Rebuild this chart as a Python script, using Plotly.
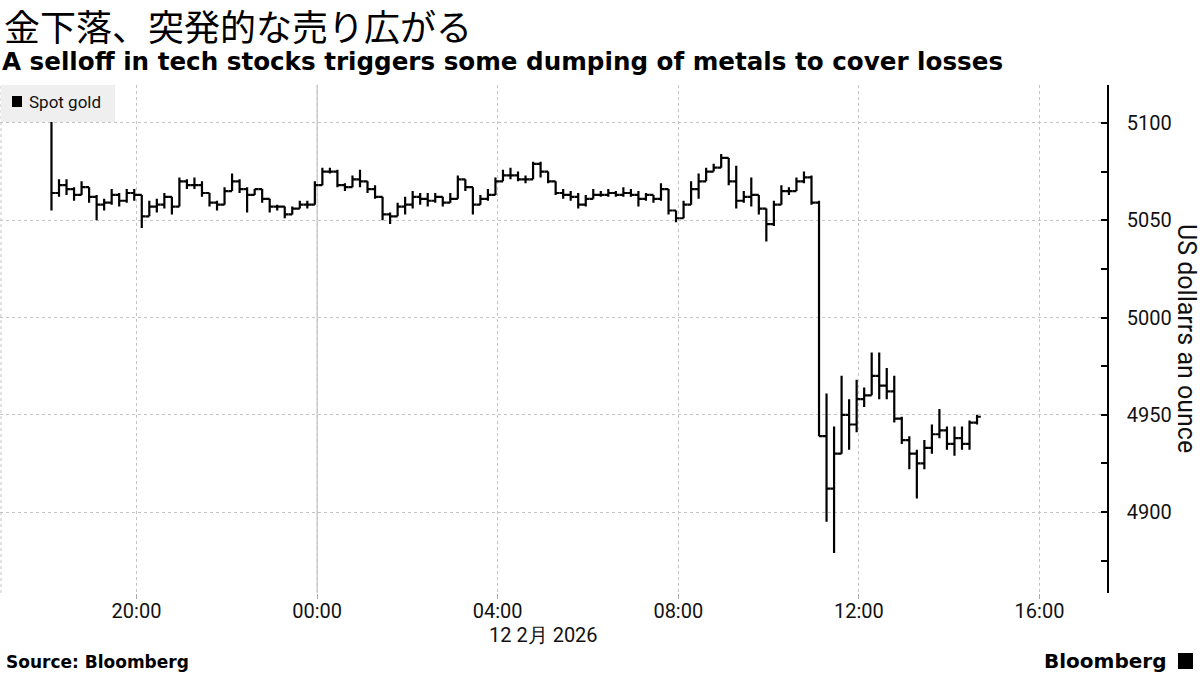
import plotly.graph_objects as go
import pandas as pd

# ---- data (10-minute bars of spot gold) ----
start_time = "2026-02-11 18:07"
bar_minutes = 10
first_open = 5101

close = [5064, 5068, 5066, 5063, 5067, 5062, 5058, 5059, 5063, 5060,
         5064, 5063, 5052, 5057, 5058, 5062, 5057, 5070, 5068, 5068,
         5064, 5059, 5058, 5065, 5070, 5066, 5063, 5066, 5061, 5057,
         5057, 5053, 5056, 5058, 5058, 5068, 5075, 5075, 5068, 5067,
         5071, 5070, 5066, 5062, 5053, 5052, 5057, 5058, 5062, 5061,
         5060, 5062, 5059, 5061, 5071, 5067, 5058, 5061, 5063, 5070,
         5073, 5073, 5071, 5071, 5079, 5075, 5070, 5064, 5063, 5062,
         5058, 5061, 5063, 5063, 5064, 5063, 5064, 5063, 5061, 5063,
         5061, 5066, 5055, 5051, 5058, 5066, 5070, 5075, 5077, 5082,
         5070, 5060, 5062, 5063, 5056, 5048, 5058, 5065, 5065, 5070,
         5072, 5059, 4939, 4912, 4930, 4950, 4945, 4958, 4960, 4970,
         4965, 4962, 4948, 4937, 4930, 4925, 4933, 4940, 4942, 4935,
         4938, 4935, 4946, 4949]

high = [5103, 5071, 5071, 5067, 5070, 5067, 5063, 5061, 5066, 5064,
        5066, 5066, 5063, 5060, 5061, 5064, 5062, 5072, 5071, 5072,
        5070, 5063, 5060, 5067, 5074, 5071, 5067, 5066, 5066, 5061,
        5058, 5057, 5057, 5060, 5060, 5070, 5077, 5077, 5076, 5069,
        5073, 5076, 5070, 5068, 5062, 5054, 5059, 5062, 5065, 5064,
        5064, 5064, 5062, 5064, 5073, 5071, 5067, 5063, 5066, 5072,
        5076, 5077, 5075, 5073, 5080, 5080, 5074, 5070, 5066, 5065,
        5064, 5063, 5066, 5065, 5066, 5065, 5067, 5066, 5065, 5064,
        5063, 5069, 5066, 5055, 5060, 5070, 5074, 5077, 5079, 5084,
        5082, 5078, 5065, 5072, 5063, 5056, 5060, 5068, 5067, 5072,
        5075, 5073, 5060, 4961, 4944, 4970, 4958, 4968, 4964, 4982,
        4982, 4974, 4970, 4949, 4939, 4932, 4937, 4945, 4953, 4944,
        4944, 4944, 4947, 4950]

low = [5055, 5062, 5063, 5060, 5063, 5059, 5050, 5055, 5058, 5057,
       5059, 5060, 5046, 5052, 5054, 5056, 5053, 5057, 5066, 5066,
       5062, 5057, 5055, 5058, 5065, 5064, 5054, 5063, 5059, 5054,
       5055, 5051, 5053, 5056, 5056, 5058, 5068, 5074, 5067, 5065,
       5067, 5067, 5064, 5061, 5050, 5048, 5052, 5053, 5056, 5058,
       5057, 5059, 5057, 5059, 5061, 5065, 5053, 5058, 5060, 5063,
       5070, 5071, 5070, 5069, 5071, 5072, 5069, 5063, 5061, 5060,
       5056, 5057, 5061, 5062, 5062, 5062, 5062, 5062, 5057, 5060,
       5059, 5060, 5053, 5049, 5051, 5058, 5061, 5070, 5075, 5077,
       5068, 5056, 5059, 5057, 5053, 5039, 5047, 5058, 5063, 5065,
       5069, 5058, 4939, 4895, 4879, 4930, 4932, 4941, 4954, 4960,
       4958, 4958, 4946, 4935, 4922, 4907, 4922, 4930, 4938, 4932,
       4929, 4932, 4932, 4945]

x_tick_vals = ["2026-02-11 20:00", "2026-02-12 00:00", "2026-02-12 04:00",
               "2026-02-12 08:00", "2026-02-12 12:00", "2026-02-12 16:00"]
x_tick_text = ["20:00", "00:00", "04:00", "08:00", "12:00", "16:00"]
y_tick_vals = [4900, 4950, 5000, 5050, 5100]
y_tick_text = ["4900", "4950", "5000", "5050", "5100"]

title_text = "金下落、突発的な売り広がる"
subtitle_text = "A selloff in tech stocks triggers some dumping of metals to cover losses"
series_name = "Spot gold"
y_title = "US dollarrs an ounce"
date_label = "12 2月 2026"
source_text = "Source: Bloomberg"
brand_text = "Bloomberg"

# ---- build ----
times = pd.date_range(start_time, periods=len(close), freq=f"{bar_minutes}min")
open_ = [first_open] + close[:-1]
high_p = [max(h, o, c) for h, o, c in zip(high, open_, close)]
low_p = [min(l, o, c) for l, o, c in zip(low, open_, close)]

W, H = 1200, 675
L, R, T, B = 0, 93, 85, 82
PW, PH = W - L - R, H - T - B


def px(x):
    return (x - L) / PW


def py(y):
    return (H - B - y) / PH


fig = go.Figure(go.Ohlc(
    x=times, open=open_, high=high_p, low=low_p, close=close,
    increasing=dict(line=dict(color="black", width=2.2)),
    decreasing=dict(line=dict(color="black", width=2.2)),
    tickwidth=0.5, showlegend=False, hoverinfo="skip", name=series_name,
))

grid_col = "#c4c4c4"
fig.update_layout(
    width=W, height=H,
    margin=dict(l=L, r=R, t=T, b=B),
    paper_bgcolor="white", plot_bgcolor="white",
    font=dict(family="Roboto", size=20, color="black"),
    showlegend=False,
    xaxis=dict(
        type="date",
        range=["2026-02-11 16:58:36", "2026-02-12 17:29:42"],
        tickmode="array", tickvals=x_tick_vals, ticktext=x_tick_text,
        ticks="outside", ticklen=5, tickcolor="#aaaaaa",
        showgrid=True, gridcolor=grid_col, griddash="dot", gridwidth=1,
        showline=False, zeroline=False,
        rangeslider=dict(visible=False),
        tickfont=dict(family="Roboto", size=20, color="#111"),
        ticklabelstandoff=-5,
    ),
    yaxis=dict(
        side="right", range=[4858.4, 5119.5],
        tickmode="array", tickvals=y_tick_vals, ticktext=y_tick_text,
        ticks="inside", ticklen=6, tickcolor="black", tickwidth=1.5,
        showline=True, linecolor="black", linewidth=1.5,
        showgrid=True, gridcolor=grid_col, griddash="dot", gridwidth=1,
        zeroline=False,
        minor=dict(tickmode="linear", tick0=4875, dtick=50, ticks="inside",
                   ticklen=6, tickcolor="black", showgrid=False),
        tickfont=dict(family="Roboto", size=20, color="#111"),
        ticklabelstandoff=14,
    ),
)

shapes = [
    dict(type="line", xref="x", yref="paper", x0="2026-02-12 00:00", x1="2026-02-12 00:00",
         y0=0, y1=1, line=dict(color="#b5b5b5", width=1), layer="below"),
    dict(type="line", xref="paper", yref="paper", x0=px(1), x1=px(1), y0=0, y1=1,
         line=dict(color=grid_col, width=1, dash="dot"), layer="below"),
    dict(type="rect", xref="paper", yref="paper", x0=px(1), x1=px(115), y0=py(122), y1=py(85),
         fillcolor="#efefef", line=dict(width=0), layer="above"),
    dict(type="rect", xref="paper", yref="paper", x0=px(12), x1=px(22), y0=py(107), y1=py(96),
         fillcolor="black", line=dict(width=0), layer="above"),
    dict(type="rect", xref="paper", yref="paper", x0=px(1178), x1=px(1193), y0=py(669), y1=py(653),
         fillcolor="black", line=dict(width=0)),
]
fig.update_layout(shapes=shapes)

ann = [
    dict(text=title_text, x=px(2), y=py(25), xanchor="left", yanchor="middle",
         font=dict(family="Noto Sans CJK JP", size=36, color="black")),
    dict(text="<b>" + subtitle_text + "</b>", x=px(0), y=py(61), xanchor="left", yanchor="middle",
         font=dict(family="DejaVu Sans", size=24.6, color="black")),
    dict(text=series_name, x=px(27), y=py(102), xanchor="left", yanchor="middle",
         font=dict(family="Roboto", size=17, color="#111")),
    dict(text=y_title, x=px(1187), y=py(338), xanchor="center", yanchor="middle", textangle=90,
         font=dict(family="Roboto", size=25, color="#111")),
    dict(text=date_label, x=px(543), y=py(635), xanchor="center", yanchor="middle",
         font=dict(family="Roboto", size=20, color="#111")),
    dict(text="<b>" + source_text + "</b>", x=px(4), y=py(662), xanchor="left", yanchor="middle",
         font=dict(family="DejaVu Sans", size=17, color="black")),
    dict(text="<b>" + brand_text + "</b>", x=px(1168), y=py(661), xanchor="right", yanchor="middle",
         font=dict(family="DejaVu Sans", size=20, color="black")),
]
for a in ann:
    a.update(xref="paper", yref="paper", showarrow=False)
fig.update_layout(annotations=ann)

fig.write_html("out.html", config={"displayModeBar": False},
               post_script="document.body.style.margin='0';")
